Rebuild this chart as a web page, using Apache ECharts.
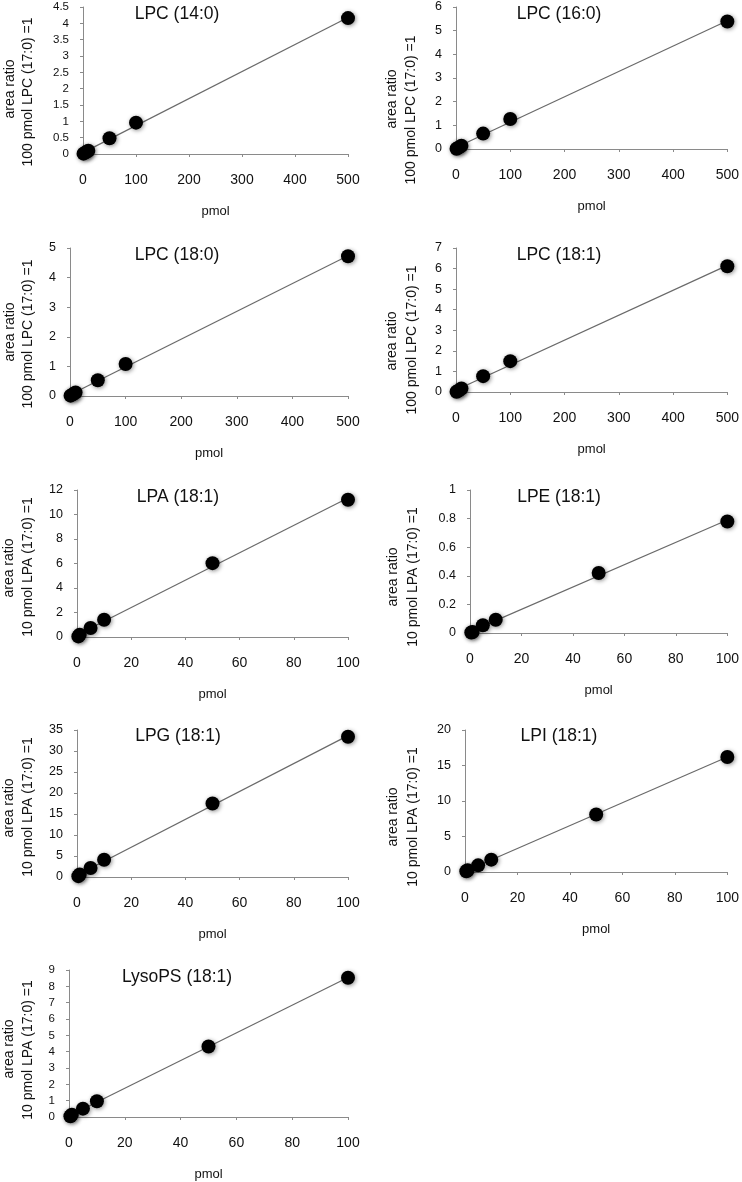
<!DOCTYPE html>
<html><head><meta charset="utf-8">
<script src="https://cdn.jsdelivr.net/npm/echarts@6/dist/echarts.min.js"></script>
<style>html,body{margin:0;padding:0;background:#fff}#c{width:742px;height:1182px}</style>
</head><body><div id="c"></div>
<script>
// ---- data ----
const xLPC = [1, 5, 10, 50, 100, 500];
const xLyso = [0.5, 1, 5, 10, 50, 100];
const yLPC140 = [0.01, 0.05, 0.1, 0.48, 0.96, 4.16];
const yLPC160 = [0.013, 0.065, 0.14, 0.65, 1.27, 5.39];
const yLPC180 = [0.011, 0.055, 0.12, 0.53, 1.08, 4.72];
const yLPC181 = [0.015, 0.075, 0.17, 0.77, 1.5, 6.11];
const yLPA181 = [0.05, 0.19, 0.73, 1.41, 6.03, 11.2];
const yLPE181 = [0.003, 0.007, 0.054, 0.093, 0.42, 0.78];
const yLPG181 = [0.2, 0.6, 2.15, 4.1, 17.5, 33.4];
const yLPI181 = [0.1, 0.25, 0.94, 1.74, 8.1, 16.2];
const yLysoPS181 = [0.05, 0.14, 0.51, 0.96, 4.32, 8.53];

const titles = ['LPC (14:0)', 'LPC (16:0)', 'LPC (18:0)', 'LPC (18:1)', 'LPA (18:1)', 'LPE (18:1)', 'LPG (18:1)', 'LPI (18:1)', 'LysoPS (18:1)'];
const xAxisName = 'pmol';
const yNameLine1 = 'area ratio';
const yNameLPC = '100 pmol LPC (17:0) =1';
const yNameLPA = '10 pmol LPA (17:0) =1';
const xMaxLPC = 500, xIntLPC = 100;
const xMaxLyso = 100, xIntLyso = 20;
const yMaxList = [4.5, 6, 5, 7, 12, 1, 35, 20, 9];
const yIntList = [0.5, 1, 1, 1, 2, 0.2, 5, 5, 1];

// ---- layout ----
const panelX = [xLPC, xLPC, xLPC, xLPC, xLyso, xLyso, xLyso, xLyso, xLyso];
const panelY = [yLPC140, yLPC160, yLPC180, yLPC181, yLPA181, yLPE181, yLPG181, yLPI181, yLysoPS181];
const panelYName = [yNameLPC, yNameLPC, yNameLPC, yNameLPC, yNameLPA, yNameLPA, yNameLPA, yNameLPA, yNameLPA];
const grids = [
  {left: 83, top: 7, width: 265, height: 147},
  {left: 456, top: 7, width: 272, height: 142},
  {left: 70, top: 248, width: 278, height: 148},
  {left: 456, top: 248, width: 272, height: 144},
  {left: 77, top: 490, width: 271, height: 147},
  {left: 470, top: 490, width: 258, height: 143},
  {left: 77, top: 730, width: 271, height: 147},
  {left: 465, top: 730, width: 263, height: 142},
  {left: 69, top: 970, width: 279, height: 147}
];
const titlePos = [[177, 14], [559, 14], [177, 255], [559, 255], [178, 497], [559, 497], [178, 736], [559, 736], [177, 977]];
const yName1Pos = [[10, 89], [392, 99], [10, 332], [392, 341], [9, 568], [393, 577], [9, 808], [393, 817], [9, 1049]];
const yName2Pos = [[28, 92], [411, 110], [28, 334], [412, 340], [28, 567], [413, 577], [28, 807], [413, 817], [28, 1050]];
const yLabelSize = [11.5, 12.5, 12.5, 12.5, 12.5, 12.5, 12.5, 12.5, 11.5];

const FONT = '"Liberation Sans", Arial, Helvetica, sans-serif';
const AXIS_COLOR = '#8a8a8a';
const TEXT_COLOR = '#111';

function fit(xs, ys) {
  const n = xs.length;
  let sx = 0, sy = 0, sxx = 0, sxy = 0;
  for (let i = 0; i < n; i++) { sx += xs[i]; sy += ys[i]; sxx += xs[i] * xs[i]; sxy += xs[i] * ys[i]; }
  const b = (n * sxy - sx * sy) / (n * sxx - sx * sx);
  const a = (sy - b * sx) / n;
  return {a, b};
}

const option = {
  backgroundColor: '#fff',
  animation: false,
  grid: [], xAxis: [], yAxis: [], series: [], graphic: []
};

for (let i = 0; i < 9; i++) {
  const isLPC = i < 4;
  option.grid.push(Object.assign({containLabel: false}, grids[i]));
  option.xAxis.push({
    type: 'value', gridIndex: i, min: 0,
    max: isLPC ? xMaxLPC : xMaxLyso, interval: isLPC ? xIntLPC : xIntLyso,
    name: xAxisName, nameLocation: 'middle', nameGap: 51,
    nameTextStyle: {fontFamily: FONT, fontSize: 13, color: TEXT_COLOR},
    axisLine: {show: true, lineStyle: {color: AXIS_COLOR, width: 1}},
    axisTick: {show: true, inside: false, length: 3, lineStyle: {color: AXIS_COLOR}},
    axisLabel: {fontFamily: FONT, fontSize: 14, color: TEXT_COLOR, margin: 19},
    splitLine: {show: false}
  });
  option.yAxis.push({
    type: 'value', gridIndex: i, min: 0, max: yMaxList[i], interval: yIntList[i],
    axisLine: {show: true, lineStyle: {color: AXIS_COLOR, width: 1}},
    axisTick: {show: true, inside: false, length: 3, lineStyle: {color: AXIS_COLOR}},
    axisLabel: {fontFamily: FONT, fontSize: yLabelSize[i], color: TEXT_COLOR, margin: 14},
    splitLine: {show: false}
  });
  const xs = panelX[i], ys = panelY[i];
  const f = fit(xs, ys);
  const x0 = xs[0], x1 = xs[xs.length - 1];
  option.series.push({
    type: 'line', xAxisIndex: i, yAxisIndex: i, symbol: 'none', z: 2,
    lineStyle: {color: '#6a6a6a', width: 1.2},
    data: [[x0, f.a + f.b * x0], [x1, f.a + f.b * x1]]
  });
  option.series.push({
    type: 'scatter', xAxisIndex: i, yAxisIndex: i, symbol: 'circle', symbolSize: 14, z: 3,
    itemStyle: {color: '#000', opacity: 1, shadowBlur: 4, shadowColor: 'rgba(0,0,0,0.45)', shadowOffsetX: 1, shadowOffsetY: 1},
    data: xs.map((x, k) => [x, ys[k]])
  });
  option.graphic.push({
    type: 'text', x: titlePos[i][0], y: titlePos[i][1], z: 10,
    style: {text: titles[i], fontFamily: FONT, fontSize: 17.5, fill: TEXT_COLOR, textAlign: 'center', textVerticalAlign: 'middle'}
  });
  option.graphic.push({
    type: 'text', x: yName1Pos[i][0], y: yName1Pos[i][1], rotation: Math.PI / 2, z: 10,
    style: {text: yNameLine1, fontFamily: FONT, fontSize: 14, fill: TEXT_COLOR, textAlign: 'center', textVerticalAlign: 'middle'}
  });
  option.graphic.push({
    type: 'text', x: yName2Pos[i][0], y: yName2Pos[i][1], rotation: Math.PI / 2, z: 10,
    style: {text: panelYName[i], fontFamily: FONT, fontSize: 14, fill: TEXT_COLOR, textAlign: 'center', textVerticalAlign: 'middle'}
  });
}

const chart = echarts.init(document.getElementById('c'), null, {renderer: 'canvas'});
chart.setOption(option);
</script>
</body></html>
